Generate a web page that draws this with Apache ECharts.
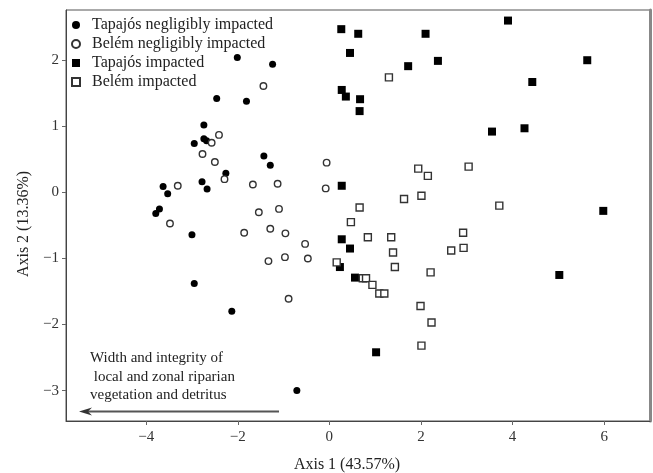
<!DOCTYPE html>
<html><head><meta charset="utf-8">
<script src="https://cdn.jsdelivr.net/npm/echarts@6/dist/echarts.min.js"></script>
<style>html,body{margin:0;padding:0;background:#fff}#c{width:653px;height:473px}</style>
</head><body><div id="c"></div>
<script>
const seriesNames = ['Tapajós negligibly impacted', 'Belém negligibly impacted', 'Tapajós impacted', 'Belém impacted'];

const tapajosNegligible = [
  [-2.01, 2.04], [-1.24, 1.94], [-2.46, 1.42], [-1.81, 1.38], [-2.74, 1.02],
  [-2.95, 0.74], [-2.74, 0.81], [-2.68, 0.78], [-1.43, 0.55], [-1.29, 0.41],
  [-2.26, 0.29], [-2.78, 0.16], [-2.67, 0.05], [-3.63, 0.09], [-3.53, -0.02],
  [-3.71, -0.25], [-3.79, -0.32], [-3.00, -0.64], [-2.95, -1.38], [-2.13, -1.80],
  [-0.71, -3.00]
];
const belemNegligible = [
  [-1.44, 1.61], [-2.41, 0.87], [-2.57, 0.75], [-2.77, 0.58], [-2.50, 0.46],
  [-2.29, 0.20], [-1.67, 0.12], [-1.13, 0.13], [-0.06, 0.45], [-0.08, 0.06],
  [-3.31, 0.10], [-3.48, -0.47], [-1.54, -0.30], [-1.10, -0.25], [-1.86, -0.61],
  [-1.29, -0.55], [-0.96, -0.62], [-0.53, -0.78], [-1.33, -1.04], [-0.97, -0.98],
  [-0.47, -1.00], [-0.89, -1.61]
];
const tapajosImpacted = [
  [0.26, 2.47], [0.63, 2.40], [2.10, 2.40], [0.45, 2.11], [1.72, 1.91],
  [2.37, 1.99], [0.27, 1.55], [0.36, 1.45], [0.67, 1.41], [0.66, 1.23],
  [0.27, 0.10], [3.90, 2.60], [5.63, 2.00], [4.43, 1.67], [3.55, 0.92],
  [4.26, 0.97], [5.98, -0.28], [5.02, -1.25], [0.27, -0.71], [0.45, -0.85],
  [0.23, -1.13], [0.56, -1.29], [1.02, -2.42]
];
const belemImpacted = [
  [1.30, 1.74], [1.94, 0.36], [2.15, 0.25], [3.04, 0.39], [1.63, -0.10],
  [2.01, -0.05], [0.66, -0.23], [3.71, -0.20], [0.47, -0.45], [2.92, -0.61],
  [0.84, -0.68], [1.35, -0.68], [2.93, -0.84], [2.66, -0.88], [1.39, -0.91],
  [1.43, -1.13], [0.16, -1.06], [2.21, -1.21], [0.73, -1.30], [0.80, -1.30],
  [0.94, -1.40], [1.09, -1.53], [1.20, -1.53], [1.99, -1.72], [2.23, -1.97],
  [2.01, -2.32]
];

const xTicks = [-4, -2, 0, 2, 4, 6];
const yTicks = [-3, -2, -1, 0, 1, 2];
const xRange = [-5.75, 7.0];
const yRange = [-3.46, 2.76];

const xTitle = 'Axis 1 (43.57%)';
const yTitle = 'Axis 2 (13.36%)';
const noteLines = ['Width and integrity of', ' local and zonal riparian', 'vegetation and detritus'];

const FONT = '"Liberation Serif", "Times New Roman", serif';
const fmt = v => String(v).replace('-', '\u2212');

const chart = echarts.init(document.getElementById('c'), null, {renderer: 'canvas'});

const openStyle = {color: '#fff', borderColor: '#333', borderWidth: 1.4, opacity: 1};
const filledStyle = {color: '#000', opacity: 1};

chart.setOption({
  animation: false,
  backgroundColor: '#fff',
  grid: {left: 66, right: 3, top: 10, bottom: 52, show: true, borderColor: '#555', borderWidth: 1},
  legend: {
    orient: 'vertical', left: 71, top: 17, padding: 0, itemGap: 3,
    itemWidth: 8, itemHeight: 8,
    data: seriesNames,
    textStyle: {fontFamily: FONT, fontSize: 16, color: '#222', lineHeight: 16, padding: [0, 0, 0, 7]}
  },
  xAxis: {
    type: 'value', min: xRange[0], max: xRange[1],
    axisLine: {show: true, onZero: false, lineStyle: {color: '#444', width: 1}},
    axisTick: {show: true, customValues: xTicks, length: 4, lineStyle: {color: '#666'}},
    axisLabel: {customValues: xTicks, formatter: fmt, fontFamily: FONT, fontSize: 15, color: '#333', margin: 9},
    splitLine: {show: false}
  },
  yAxis: [{
    type: 'value', min: yRange[0], max: yRange[1],
    axisLine: {show: true, onZero: false, lineStyle: {color: '#444', width: 1}},
    axisTick: {show: true, customValues: yTicks, length: 4, lineStyle: {color: '#666'}},
    axisLabel: {customValues: yTicks, formatter: fmt, fontFamily: FONT, fontSize: 15, color: '#333', margin: 7},
    splitLine: {show: false}
  }, {
    type: 'value', position: 'right', min: yRange[0], max: yRange[1],
    axisLine: {show: true, onZero: false, lineStyle: {color: '#888', width: 3}},
    axisTick: {show: false}, axisLabel: {show: false}, splitLine: {show: false}
  }],
  series: [
    {name: seriesNames[0], type: 'scatter', data: tapajosNegligible, symbol: 'circle', symbolSize: 7, itemStyle: filledStyle, z: 3},
    {name: seriesNames[1], type: 'scatter', data: belemNegligible, symbol: 'circle', symbolSize: 6.5, itemStyle: openStyle, z: 3},
    {name: seriesNames[2], type: 'scatter', data: tapajosImpacted, symbol: 'rect', symbolSize: 8, itemStyle: filledStyle, z: 3},
    {name: seriesNames[3], type: 'scatter', data: belemImpacted, symbol: 'rect', symbolSize: 7, itemStyle: openStyle, z: 3}
  ],
  graphic: [
    {type: 'text', x: 347, y: 465, style: {text: xTitle, font: '16px ' + FONT, fill: '#222', textAlign: 'center', textVerticalAlign: 'middle'}},
    {type: 'text', x: 24, y: 224, rotation: Math.PI / 2, style: {text: yTitle, font: '16px ' + FONT, fill: '#222', textAlign: 'center', textVerticalAlign: 'middle'}},
    {type: 'text', x: 90, y: 358, style: {text: noteLines[0], font: '15px ' + FONT, fill: '#222', textVerticalAlign: 'middle'}},
    {type: 'text', x: 90, y: 377, style: {text: noteLines[1], font: '15px ' + FONT, fill: '#222', textVerticalAlign: 'middle'}},
    {type: 'text', x: 90, y: 395, style: {text: noteLines[2], font: '15px ' + FONT, fill: '#222', textVerticalAlign: 'middle'}},
    {type: 'line', shape: {x1: 279, y1: 411.5, x2: 86, y2: 411.5}, style: {stroke: '#555', lineWidth: 2}},
    {type: 'polygon', shape: {points: [[79, 411.5], [92, 407.5], [88, 411.5], [92, 415.5]]}, style: {fill: '#333'}}
  ]
});
</script>
</body></html>
